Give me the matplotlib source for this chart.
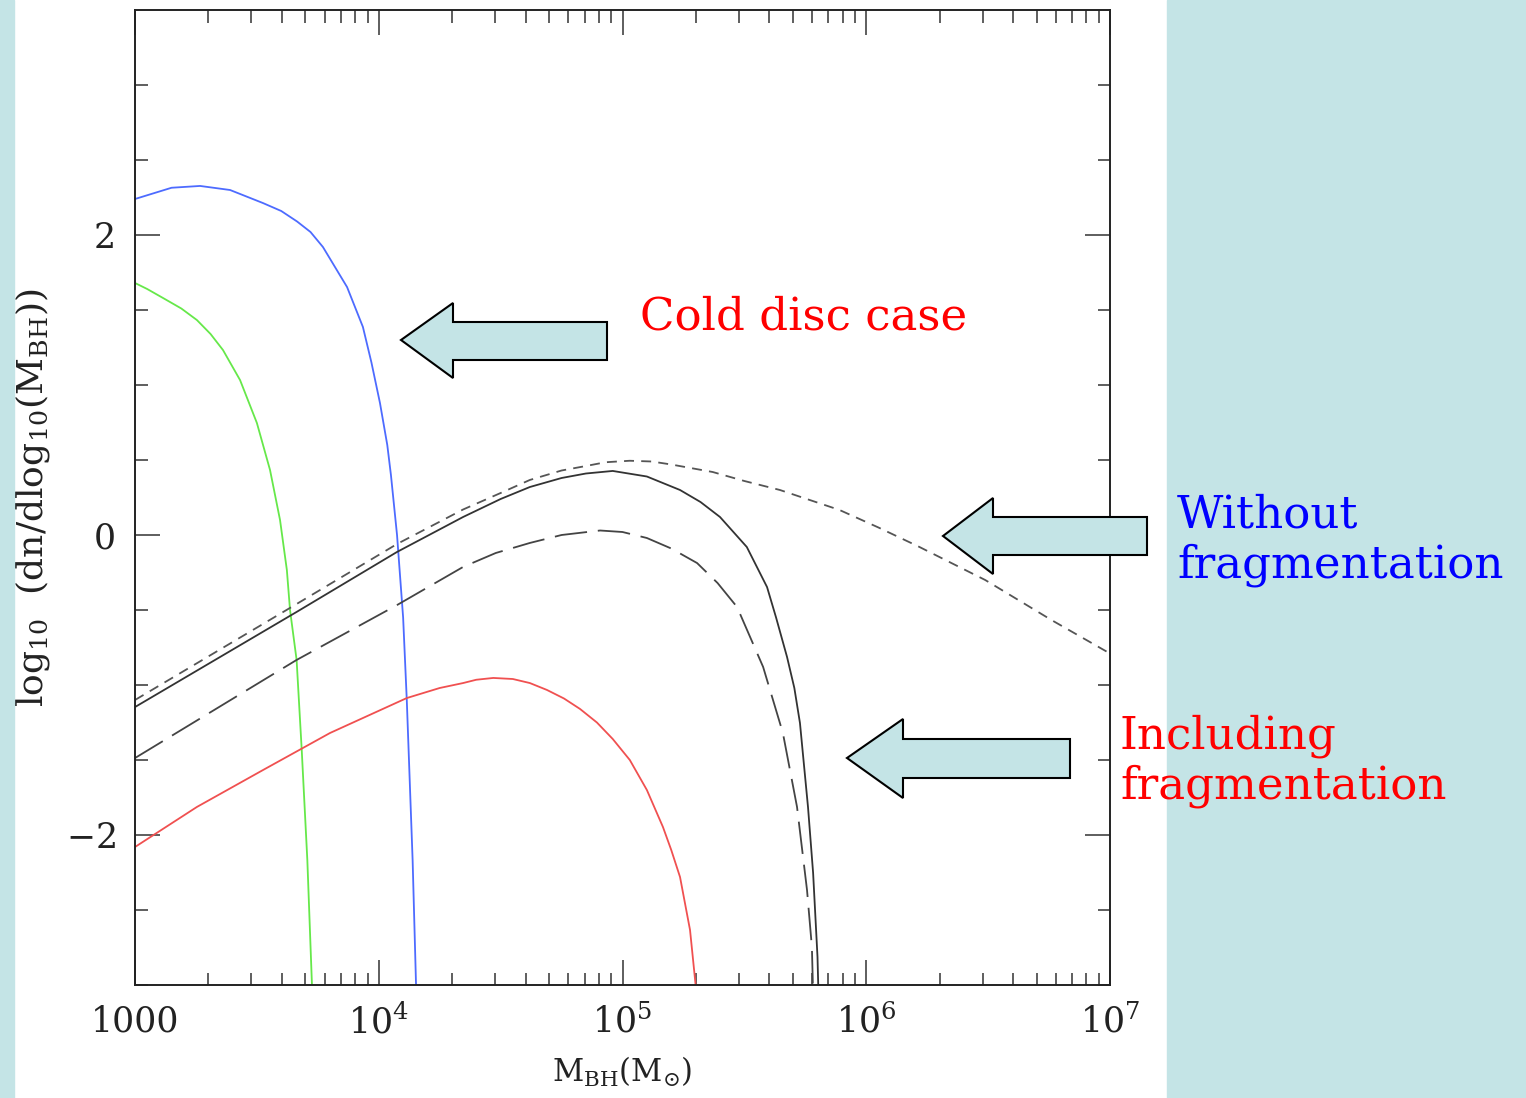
import numpy as np
import matplotlib
matplotlib.use("Agg")
import matplotlib.pyplot as plt
from matplotlib.patches import Polygon, Rectangle
from matplotlib.ticker import FixedLocator, FixedFormatter, NullFormatter

plt.rcParams["font.family"] = ["DejaVu Serif"]
plt.rcParams["mathtext.fontset"] = "dejavuserif"

# log10(M_BH) and log10(dn/dlog10 M)
blue_logm = [3.0, 3.15, 3.267, 3.39, 3.525, 3.6, 3.665, 3.72, 3.771, 3.87, 3.935, 3.97, 4.005, 4.035, 4.05,
             4.075, 4.10, 4.115, 4.139, 4.153]
blue_y = [2.24, 2.315, 2.327, 2.30, 2.213, 2.16, 2.09, 2.02, 1.92, 1.653, 1.387, 1.15, 0.88, 0.60, 0.40,
          0.0, -0.55, -1.1, -2.17, -3.0]

green_logm = [3.0, 3.05, 3.115, 3.19, 3.254, 3.31, 3.361, 3.431, 3.50, 3.554, 3.595, 3.623, 3.636, 3.663,
              3.684, 3.707, 3.726]
green_y = [1.68, 1.64, 1.58, 1.51, 1.433, 1.34, 1.233, 1.033, 0.747, 0.433, 0.10, -0.233, -0.50, -0.833,
           -1.433, -2.167, -3.0]

red_logm = [3.0, 3.254, 3.525, 3.80, 4.115, 4.25, 4.346, 4.40, 4.47, 4.55, 4.62, 4.69, 4.76, 4.826, 4.895,
            4.96, 5.03, 5.1, 5.166, 5.2, 5.236, 5.277, 5.30]
red_y = [-2.08, -1.813, -1.567, -1.32, -1.087, -1.02, -0.987, -0.965, -0.953, -0.96, -0.987, -1.033, -1.09,
         -1.16, -1.25, -1.36, -1.50, -1.70, -1.947, -2.1, -2.28, -2.633, -3.0]

solid_logm = [3.0, 3.663, 4.075, 4.346, 4.5, 4.62, 4.75, 4.85, 4.96, 5.1, 5.236, 5.32, 5.40, 5.51, 5.593,
              5.63, 5.675, 5.705, 5.728, 5.761, 5.782, 5.80, 5.803]
solid_y = [-1.147, -0.513, -0.113, 0.12, 0.24, 0.32, 0.38, 0.41, 0.427, 0.39, 0.30, 0.22, 0.12, -0.08, -0.347,
           -0.55, -0.813, -1.02, -1.253, -1.813, -2.253, -2.813, -3.0]

sdash_logm = [3.0, 3.663, 4.075, 4.346, 4.5, 4.62, 4.75, 4.85, 4.93, 5.03, 5.12, 5.2, 5.37, 5.5, 5.646,
              5.89, 6.05, 6.216, 6.488, 6.76, 7.0]
sdash_y = [-1.10, -0.46, -0.06, 0.17, 0.28, 0.367, 0.43, 0.46, 0.485, 0.495, 0.49, 0.47, 0.42, 0.36, 0.30,
           0.167, 0.05, -0.078, -0.30, -0.567, -0.79]

ldash_logm = [3.0, 3.663, 4.075, 4.346, 4.48, 4.62, 4.75, 4.908, 5.0, 5.10, 5.2, 5.306, 5.39, 5.47, 5.577,
              5.658, 5.716, 5.757, 5.777, 5.781]
ldash_y = [-1.487, -0.833, -0.467, -0.213, -0.12, -0.053, 0.0, 0.03, 0.02, -0.02, -0.09, -0.187, -0.32,
           -0.48, -0.88, -1.32, -1.813, -2.367, -2.747, -3.0]

x_tick_vals = [1e3, 1e4, 1e5, 1e6, 1e7]
x_tick_labels = ["1000", r"$10^4$", r"$10^5$", r"$10^6$", r"$10^7$"]
y_tick_vals = [-2, 0, 2]
y_tick_labels = [r"$-2$", "0", "2"]

W, H = 1526, 1098
bg = "#c4e4e6"

fig = plt.figure(figsize=(W / 100, H / 100), dpi=100)
fig.patch.set_facecolor("white")
fig.patches.append(Rectangle((0, 0), 14 / W, 1, transform=fig.transFigure, color=bg, zorder=0))
fig.patches.append(Rectangle((1167 / W, 0), 1 - 1167 / W, 1, transform=fig.transFigure, color=bg, zorder=0))

ax = fig.add_axes([135 / W, (H - 985) / H, 975 / W, 975 / H])
ax.set_facecolor("none")

ax.plot(10 ** np.array(blue_logm), blue_y, color="#4d6bff", lw=1.3)
ax.plot(10 ** np.array(green_logm), green_y, color="#66e84a", lw=1.3)
ax.plot(10 ** np.array(red_logm), red_y, color="#f05050", lw=1.3)
ax.plot(10 ** np.array(solid_logm), solid_y, color="#333333", lw=1.3)
ax.plot(10 ** np.array(sdash_logm), sdash_y, color="#555555", lw=1.3, dashes=(5.5, 4))
ax.plot(10 ** np.array(ldash_logm), ldash_y, color="#444444", lw=1.3, dashes=(18, 6))

ax.set_xscale("log")
ax.set_xlim(1e3, 1e7)
ax.set_ylim(-3, 3.5)

ax.xaxis.set_major_locator(FixedLocator(x_tick_vals))
ax.xaxis.set_major_formatter(FixedFormatter(x_tick_labels))
ax.xaxis.set_minor_locator(FixedLocator([m * 10 ** e for e in range(3, 7) for m in range(2, 10)]))
ax.xaxis.set_minor_formatter(NullFormatter())
ax.yaxis.set_major_locator(FixedLocator(y_tick_vals))
ax.yaxis.set_major_formatter(FixedFormatter(y_tick_labels))
ax.yaxis.set_minor_locator(FixedLocator(np.arange(-3, 3.5, 0.5)))

ax.tick_params(which="both", direction="in", top=True, right=True, width=1.1, color="#333333",
               labelsize=25, labelcolor="#222222")
ax.tick_params(which="major", length=18, pad=14)
ax.tick_params(which="minor", length=9)
for s in ax.spines.values():
    s.set_linewidth(1.4)
    s.set_color("#222222")

ax.set_xlabel(r"$\mathrm{M_{BH}(M_{\odot})}$", fontsize=22, color="#222222", labelpad=10)
ax.set_ylabel(r"$\mathrm{log_{10}\ \ (dn/dlog_{10}(M_{BH}))}$", fontsize=26, color="#222222", labelpad=10)


def arrow(tip_x, tip_y, neck_x, tail_x, head_top, head_bot, shaft_top, shaft_bot):
    pts = [(tip_x, tip_y), (neck_x, head_top), (neck_x, shaft_top), (tail_x, shaft_top),
           (tail_x, shaft_bot), (neck_x, shaft_bot), (neck_x, head_bot)]
    pts = [(x / W, 1 - y / H) for x, y in pts]
    fig.patches.append(Polygon(pts, closed=True, transform=fig.transFigure,
                               facecolor=bg, edgecolor="black", lw=1.5, zorder=5))


arrow(401, 340, 453, 607, 303, 378, 322, 360)
arrow(943, 536, 993, 1147, 498, 574, 517, 555)
arrow(847, 758, 903, 1070, 719, 798, 739, 778)

fig.text(640 / W, 1 - 317 / H, "Cold disc case", color="#ff0000", fontsize=32.5, va="center", ha="left")
fig.text(1177 / W, 1 - 540 / H, "Without\nfragmentation", color="#0000ff", fontsize=32.5,
         va="center", ha="left", linespacing=1.2)
fig.text(1120 / W, 1 - 761 / H, "Including\nfragmentation", color="#ff0000", fontsize=32.5,
         va="center", ha="left", linespacing=1.2)

fig.savefig("out.png", dpi=100)
